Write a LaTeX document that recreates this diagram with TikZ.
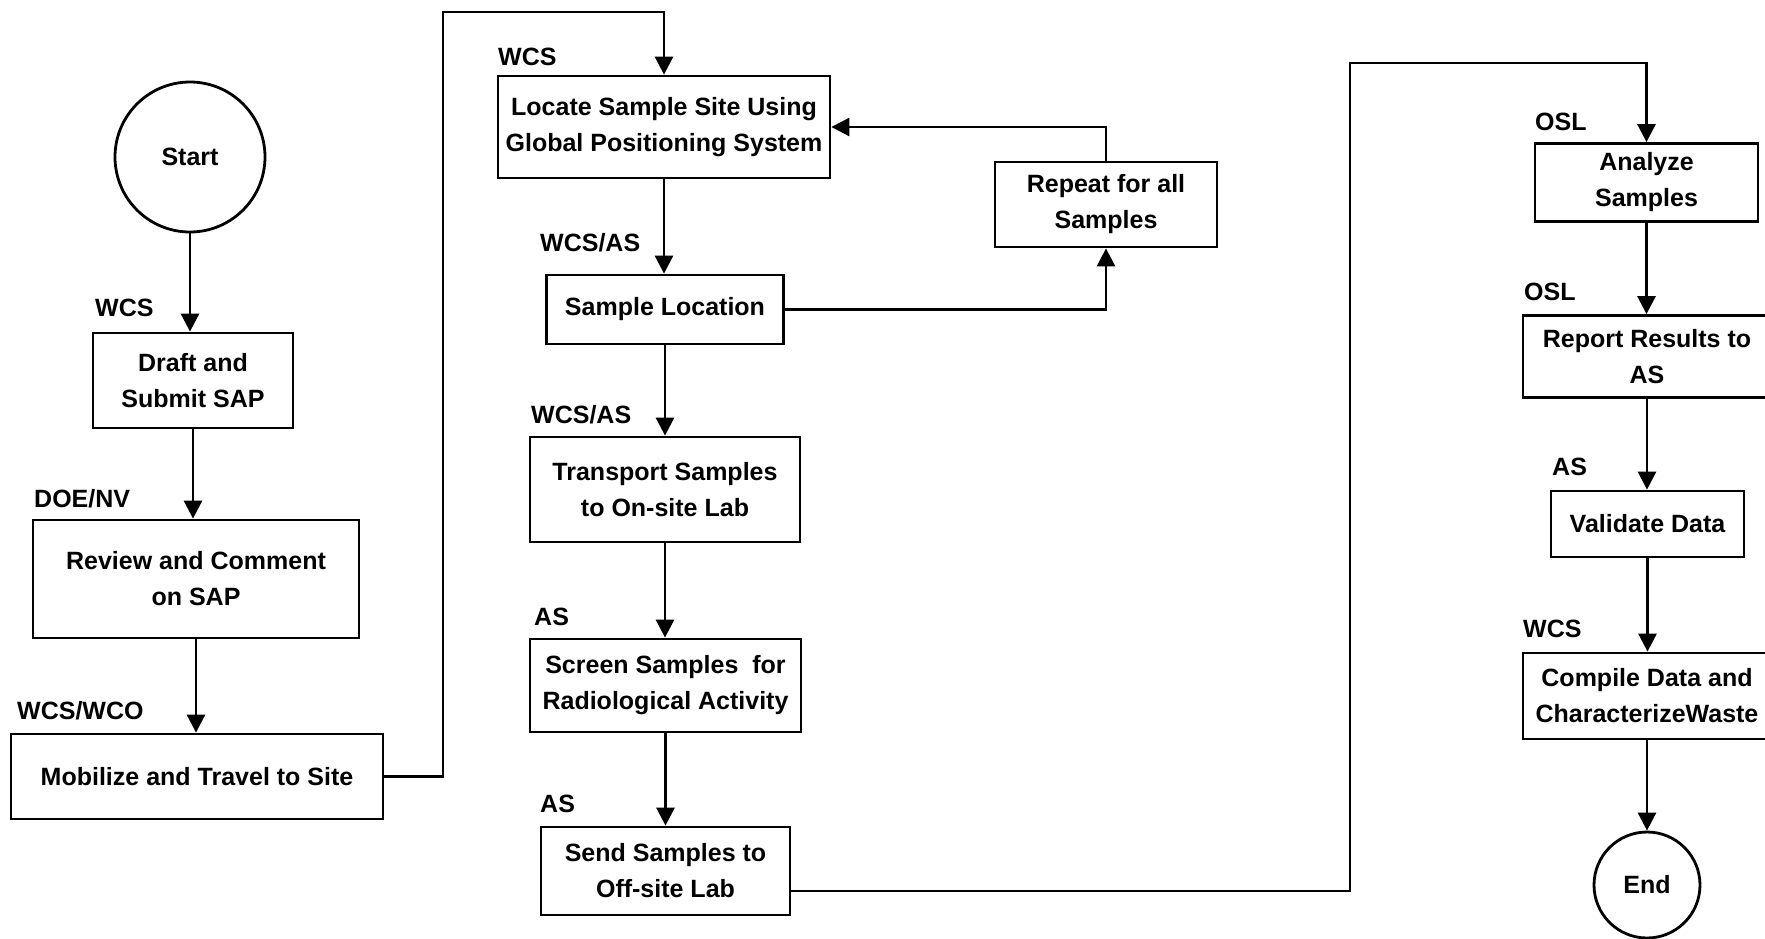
\documentclass[tikz,border=0pt]{standalone}
\usepackage{fontspec}
\setmainfont{Liberation Sans}
\usetikzlibrary{arrows.meta}
\begin{document}
\begin{tikzpicture}[x=1pt,y=-1pt,
  every node/.style={font=\fontsize{25}{36}\selectfont\bfseries},
  box/.style={draw,line width=2.8pt,align=center,inner sep=0pt},
  term/.style={draw,circle,line width=2.8pt,inner sep=0pt},
  lbl/.style={anchor=base west,inner sep=0pt},
  arr/.style={line width=2.8pt,-{Triangle[width=18pt,length=18pt]}},
  ln/.style={line width=2.8pt}]
\useasboundingbox (0,0) rectangle (1765,938);
% column 1
\node[term,minimum size=150pt] (start) at (190,157) {Start};
\node[box,minimum width=200pt,minimum height=95pt] (draft) at (193,380.5) {Draft and\\Submit SAP};
\node[box,minimum width=326pt,minimum height=118pt] (review) at (196,579) {Review and Comment\\on SAP};
\node[box,minimum width=372pt,minimum height=85pt] (mobil) at (197,776.5) {Mobilize and Travel to Site};
\node[lbl] (lwcs1) at (95,316) {WCS};
\node[lbl] (ldoe) at (34,507) {DOE/NV};
\node[lbl] (lwco) at (17,719) {WCS/WCO};
% column 2
\node[box,minimum width=332pt,minimum height=102pt] (locate) at (664,127) {Locate Sample Site Using\\Global Positioning System};
\node[box,minimum width=237pt,minimum height=69pt] (sloc) at (665,309.5) {Sample Location};
\node[box,minimum width=270pt,minimum height=105pt] (transport) at (665,489.5) {Transport Samples\\to On-site Lab};
\node[box,minimum width=271pt,minimum height=93pt] (screen) at (665.5,685.5) {Screen Samples\ \ for\\Radiological Activity};
\node[box,minimum width=249pt,minimum height=88pt] (send) at (665.5,871) {Send Samples to\\Off-site Lab};
\node[box,minimum width=222pt,minimum height=85pt] (repeat) at (1106,204.5) {Repeat for all\\Samples};
\node[lbl] (lwcs2) at (498,65) {WCS};
\node[lbl] (lwcsas1) at (540,251) {WCS/AS};
\node[lbl] (lwcsas2) at (531,423) {WCS/AS};
\node[lbl] (las1) at (534,625) {AS};
\node[lbl] (las2) at (540,812) {AS};
% column 3
\node[box,minimum width=223pt,minimum height=78pt] (analyze) at (1646.5,182.5) {Analyze\\Samples};
\node[box,minimum width=248pt,minimum height=82pt] (report) at (1647,356.5) {Report Results to\\AS};
\node[box,minimum width=193pt,minimum height=66pt] (validate) at (1647.5,524) {Validate Data};
\node[box,minimum width=248pt,minimum height=86pt] (compile) at (1647,696) {Compile Data and\\CharacterizeWaste};
\node[term,minimum size=106pt] (endc) at (1647,885) {End};
\node[lbl] (losl1) at (1535,130) {OSL};
\node[lbl] (losl2) at (1524,300) {OSL};
\node[lbl] (las3) at (1552,475) {AS};
\node[lbl] (lwcs3) at (1523,637) {WCS};
% connectors
\coordinate (c1) at (443,12);
\coordinate (c2) at (1350,63);
\draw[arr] (start.south) -- (start.south |- draft.north);
\draw[arr] (draft.south) -- (draft.south |- review.north);
\draw[arr] (review.south) -- (review.south |- mobil.north);
\draw[arr] (mobil.east) -| (c1) -| (locate.north);
\draw[arr] (locate.south) -- (locate.south |- sloc.north);
\draw[arr] (sloc.south) -- (sloc.south |- transport.north);
\draw[arr] (transport.south) -- (transport.south |- screen.north);
\draw[arr] (screen.south) -- (screen.south |- send.north);
\draw[arr] (sloc.east) -| (repeat.south);
\draw[arr] (repeat.north) |- (locate.east);
\draw[arr] ([yshift=-20pt]send.east) -| (c2) -| (analyze.north);
\draw[arr] (analyze.south) -- (analyze.south |- report.north);
\draw[arr] (report.south) -- (report.south |- validate.north);
\draw[arr] (validate.south) -- (validate.south |- compile.north);
\draw[arr] (compile.south) -- (compile.south |- endc.north);
\end{tikzpicture}
\end{document}
